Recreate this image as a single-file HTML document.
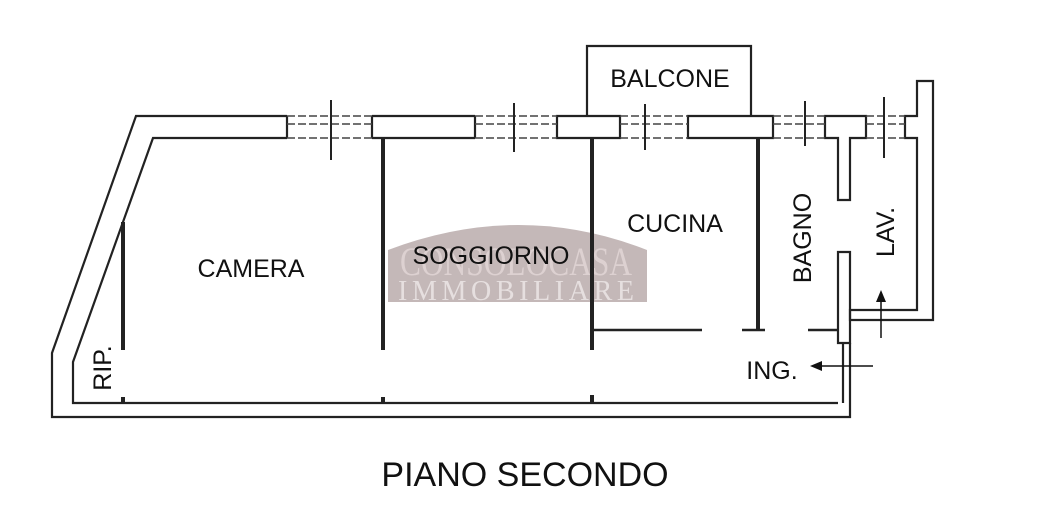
<!DOCTYPE html>
<html><head><meta charset="utf-8"><style>
html,body{margin:0;padding:0;background:#fff;}
svg{display:block}
text{font-family:"Liberation Sans",sans-serif;fill:#111}
</style></head><body>
<svg width="1050" height="525" viewBox="0 0 1050 525" xmlns="http://www.w3.org/2000/svg">
<!-- watermark -->
<path d="M388 302 L388 250 Q520 200 647 250 L647 302 Z" fill="#c4b8b8"/>
<text x="516" y="275" text-anchor="middle" font-size="40" style="fill:#ddd1d1;font-family:'Liberation Serif',serif" textLength="232" lengthAdjust="spacingAndGlyphs">CONSOLOCASA</text>
<text x="516" y="300" text-anchor="middle" font-size="28" style="fill:#e6dfdf;font-family:'Liberation Serif',serif" textLength="236" lengthAdjust="spacing">IMMOBILIARE</text>

<g fill="none" stroke="#222" stroke-width="2.2">
<path d="M287 116 L136 116 L52 353 L52 417 L850 417 L850 403"/>
<path d="M287 138 L153 138 L73 362 L73 403 L838 403"/>
<path d="M287 116 L287 138 M372 116 L372 138 M372 116 L475 116 M372 138 L475 138 M475 116 L475 138"/>
<path d="M557 116 L620 116 L620 138 L557 138 Z"/>
<path d="M688 116 L773 116 L773 138 L688 138 Z"/>
<path d="M825 116 L866 116 L866 138 L850 138 L850 200 L838 200 L838 138 L825 138 Z"/>
<path d="M905 116 L917 116 L917 81 L933 81 L933 320 L850 320 L850 310 L917 310 L917 138 L905 138 Z"/>
<path d="M587 116 L587 46 L751 46 L751 116"/>
<path d="M838 252 L850 252 L850 343 L838 343 Z"/>
<path d="M843 343 L843 403 M850 343 L850 403"/>
</g>
<g stroke="#444" stroke-width="1.5" stroke-dasharray="8 3" fill="none">
<path d="M287 116 L372 116 M287 138 L372 138 M287 124 L372 124"/>
<path d="M475 116 L557 116 M475 138 L557 138 M475 124 L557 124"/>
<path d="M620 116 L688 116 M620 138 L688 138 M620 124 L688 124"/>
<path d="M773 116 L825 116 M773 138 L825 138 M773 124 L825 124"/>
<path d="M866 116 L905 116 M866 138 L905 138 M866 124 L905 124"/>
</g>
<g stroke="#222" stroke-width="2">
<path d="M331 100 L331 160 M514 103 L514 152 M645 104 L645 150 M805 101 L805 146 M884 97 L884 158"/>
</g>
<g stroke="#222" stroke-width="4" fill="none">
<path d="M123 222 L123 350 M123 397 L123 403"/>
<path d="M383 138 L383 350 M383 397 L383 403"/>
<path d="M592 138 L592 350 M592 395 L592 403"/>
<path d="M758 138 L758 330"/>
</g>
<g stroke="#222" stroke-width="2.5" fill="none">
<path d="M592 330 L702 330 M742 330 L765 330 M808 330 L838 330"/>
</g>
<g stroke="#111" stroke-width="1.5">
<path d="M881 338 L881 300 M873 366 L820 366"/>
</g>
<path d="M881 290 L876 302 L886 302 Z M810 366 L822 361 L822 371 Z" fill="#111"/>
<text x="251" y="277" text-anchor="middle" font-size="25">CAMERA</text>
<text x="491" y="264" text-anchor="middle" font-size="25">SOGGIORNO</text>
<text x="675" y="232" text-anchor="middle" font-size="25">CUCINA</text>
<text x="670" y="87" text-anchor="middle" font-size="25">BALCONE</text>
<text x="772" y="379" text-anchor="middle" font-size="25">ING.</text>
<text transform="translate(811,238) rotate(-90)" text-anchor="middle" font-size="25">BAGNO</text>
<text transform="translate(894,232) rotate(-90)" text-anchor="middle" font-size="25">LAV.</text>
<text transform="translate(111,368) rotate(-90)" text-anchor="middle" font-size="25">RIP.</text>
<text x="525" y="486" text-anchor="middle" font-size="34">PIANO SECONDO</text>
</svg>
</body></html>
